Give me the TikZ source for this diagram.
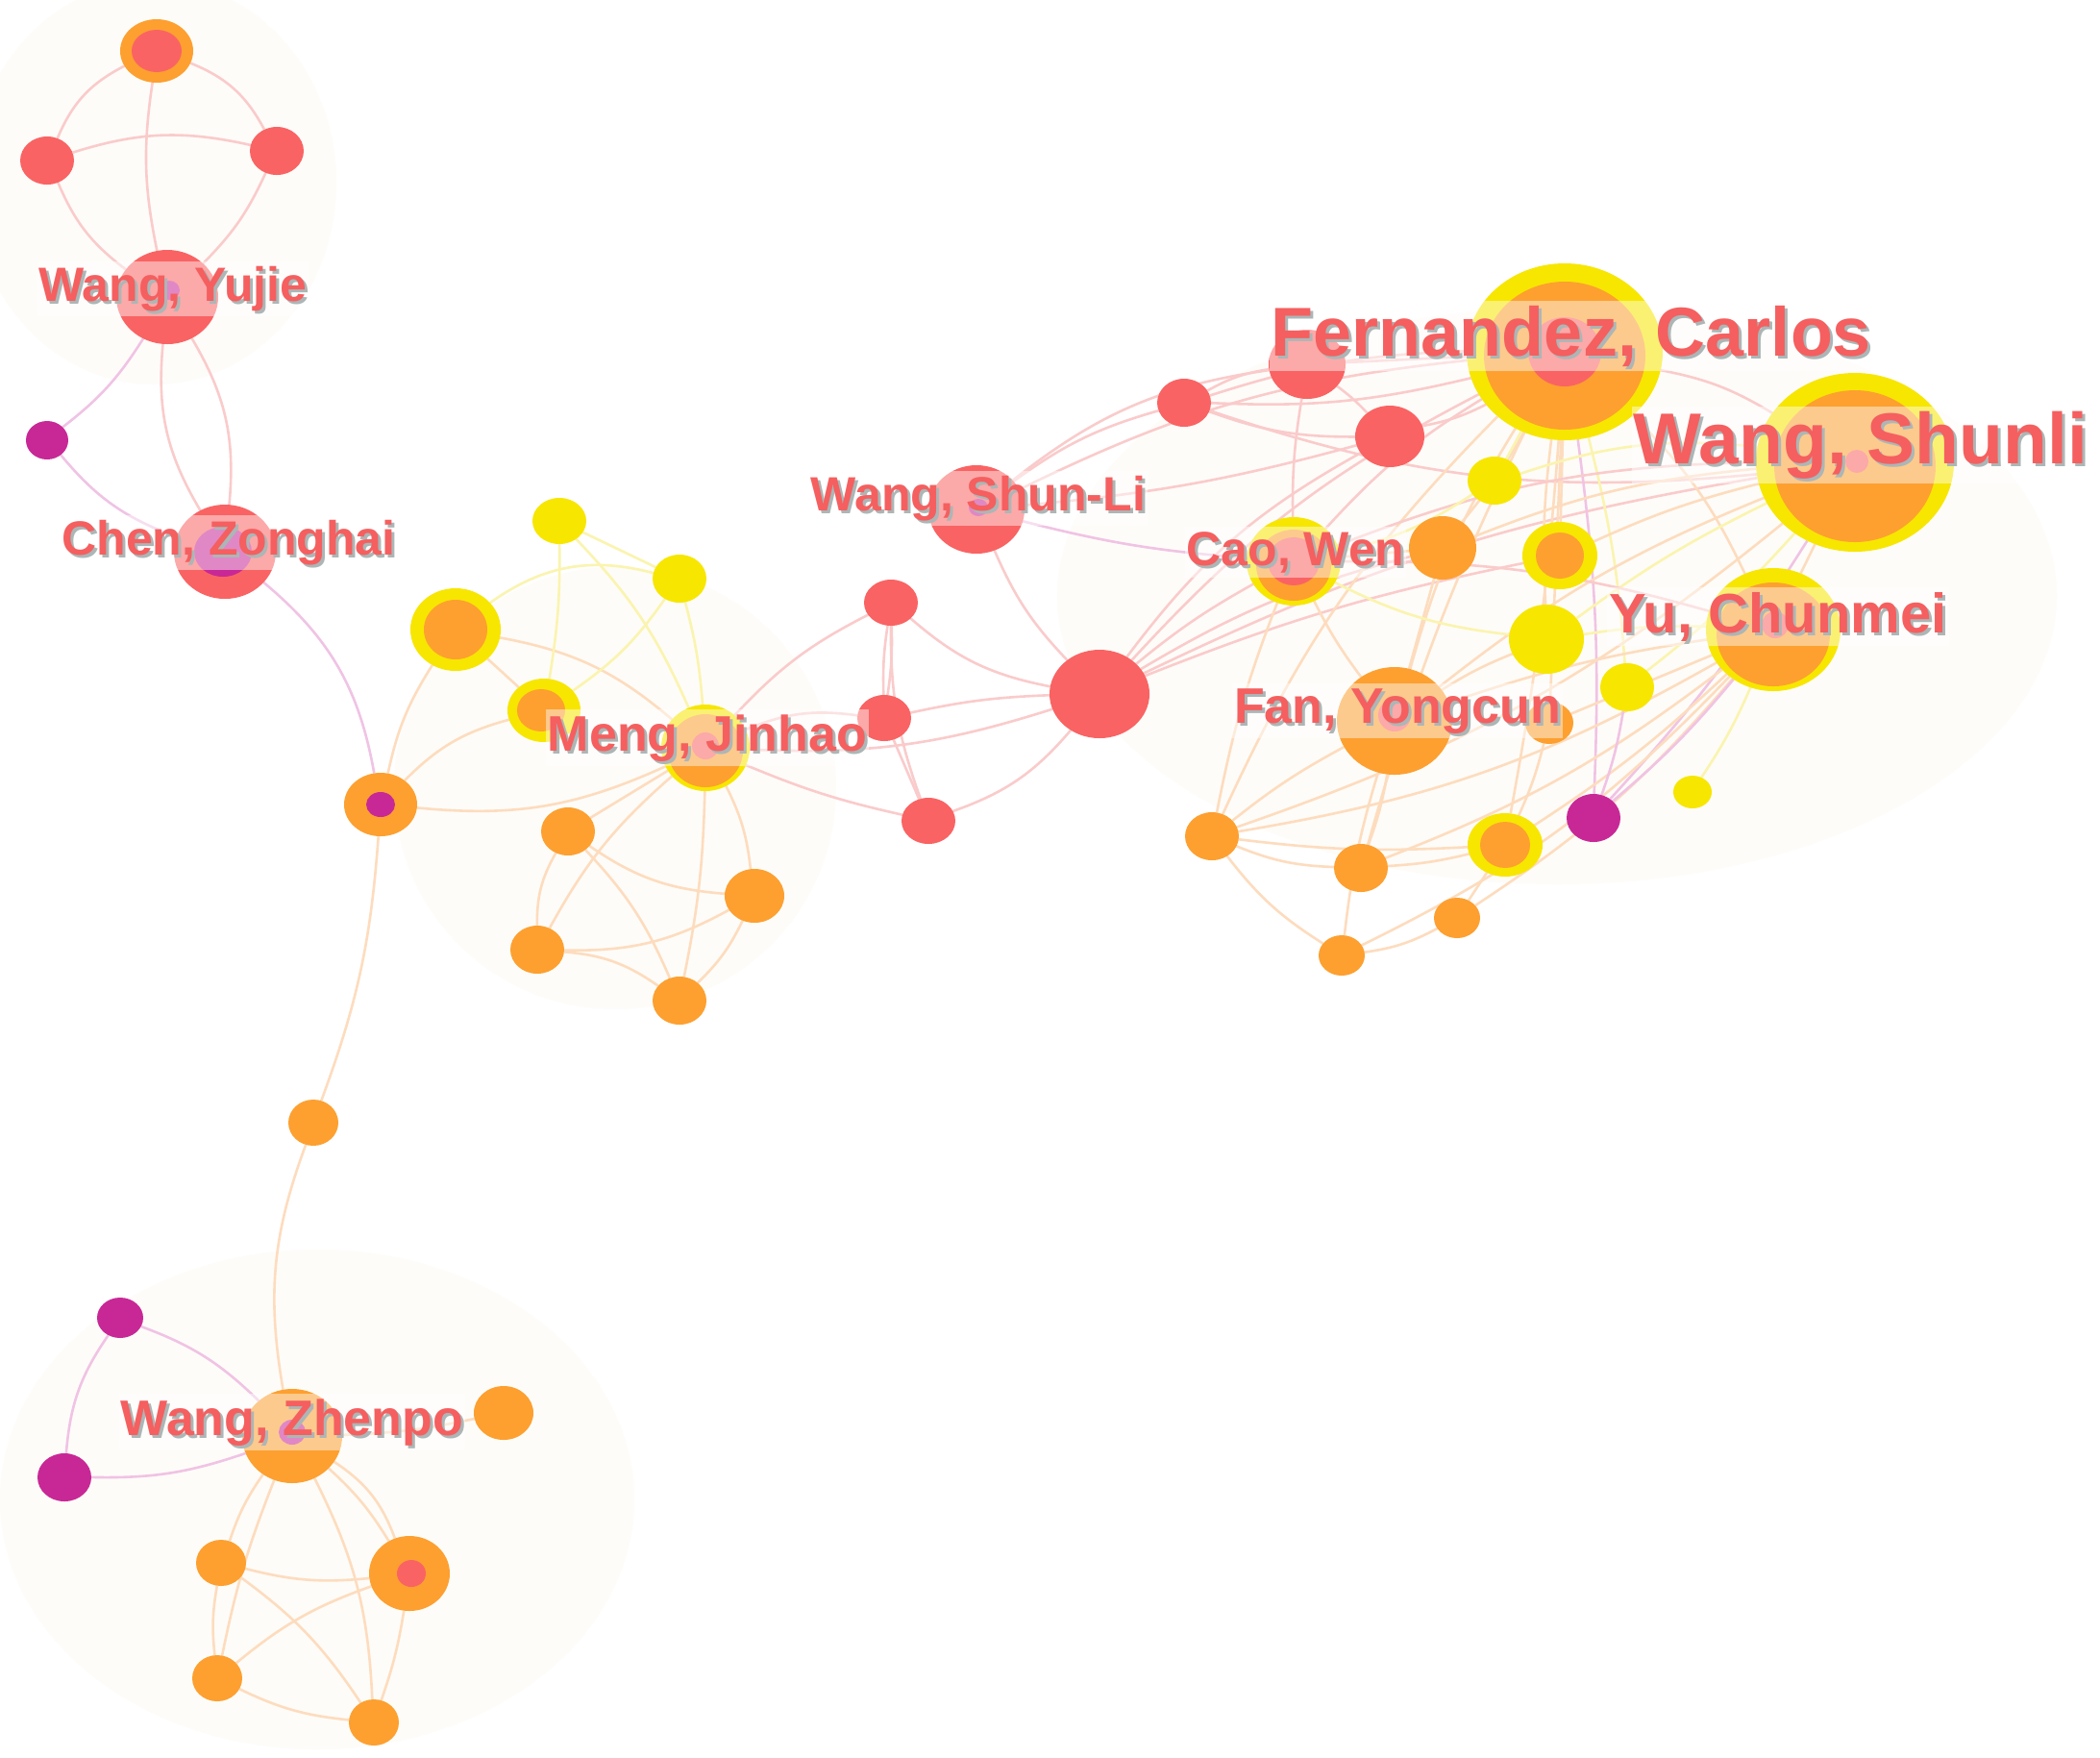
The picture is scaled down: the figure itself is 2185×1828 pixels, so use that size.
\documentclass[tikz,border=0pt]{standalone}
\usepackage{fontspec}
\setmainfont{Liberation Sans}
\usetikzlibrary{shapes.geometric}
\definecolor{cRed}{RGB}{250,99,99}
\definecolor{cOrn}{RGB}{253,160,48}
\definecolor{cYel}{RGB}{247,230,0}
\definecolor{cMag}{RGB}{200,40,150}
\definecolor{cLab}{RGB}{245,95,95}
\definecolor{cShd}{RGB}{172,182,182}
\definecolor{eRc}{RGB}{250,203,203}
\definecolor{eOc}{RGB}{253,220,190}
\definecolor{eYc}{RGB}{250,244,175}
\definecolor{eMc}{RGB}{240,195,228}
\definecolor{cBlob}{RGB}{254,252,248}
\pgfdeclarelayer{blob}\pgfdeclarelayer{edges}\pgfdeclarelayer{labels}
\pgfsetlayers{blob,edges,main,labels}
\tikzset{
  nd/.style={ellipse,inner sep=0pt,outer sep=0pt,draw=none},
  rd/.style={nd,fill=cRed}, orn/.style={nd,fill=cOrn},
  yel/.style={nd,fill=cYel}, mag/.style={nd,fill=cMag},
  edgebase/.style={line width=1.3pt},
  eR/.style={edgebase,draw=eRc}, eO/.style={edgebase,draw=eOc},
  eY/.style={edgebase,draw=eYc}, eM/.style={edgebase,draw=eMc},
  lband/.style={anchor=base,fill=white,fill opacity=0.45,inner xsep=0.1em,inner ysep=0.25em},
  lshadow/.style={anchor=base,text=cShd,inner sep=0pt,xshift=1.5pt,yshift=-1.5pt},
  ltext/.style={anchor=base,text=cLab,inner sep=0pt},
}
\newcommand\pnode[6]{\node[#6,minimum width=#4pt,minimum height=#5pt] (#1) at (#2,#3) {};}
\newcommand\authlab[5]{%
  \begin{pgfonlayer}{labels}
  \node[lband,font=\fontsize{#4}{#4}\selectfont\bfseries] (#1-band) at (#2,#3) {\phantom{#5}};
  \node[lshadow,font=\fontsize{#4}{#4}\selectfont\bfseries] (#1-shadow) at (#2,#3) {#5};
  \node[ltext,font=\fontsize{#4}{#4}\selectfont\bfseries] (#1) at (#2,#3) {#5};
  \end{pgfonlayer}}
\begin{document}
\begin{tikzpicture}[x=0.5pt,y=-0.5pt]
\useasboundingbox (0,0) rectangle (2185,1828);
\begin{pgfonlayer}{blob}
\fill[white] (0,0) rectangle (2185,1828);
\fill[cBlob] (160,190) ellipse [x radius=190,y radius=210];
\fill[cBlob] (330,1560) ellipse [x radius=330,y radius=260];
\fill[cBlob] (1620,620) ellipse [x radius=520,y radius=300];
\fill[cBlob] (640,820) ellipse [x radius=230,y radius=230];
\end{pgfonlayer}

% ---------- nodes: top-left
\pnode{A}{163}{53}{38}{33}{orn}\pnode{A-in}{163}{53}{26}{22}{rd}
\pnode{B}{49}{167}{28}{25}{rd}
\pnode{C}{288}{157}{28}{25}{rd}
\pnode{WY}{174}{309}{53}{49}{rd}\pnode{WY-in}{176}{302}{11}{10}{mag}
\pnode{D}{49}{458}{22}{20}{mag}
\pnode{Chen}{234}{574}{53}{49}{rd}\pnode{Chen-in}{232}{574}{30}{26}{mag}
% ---------- middle-left
\pnode{E}{396}{837}{38}{33}{orn}\pnode{E-in}{396}{837}{15}{13}{mag}
\pnode{F}{474}{655}{47}{43}{yel}\pnode{F-in}{474}{655}{33}{31}{orn}
\pnode{G}{582}{542}{28}{24}{yel}
\pnode{H}{707}{602}{28}{25}{yel}
\pnode{I}{566}{739}{38}{33}{yel}\pnode{I-in}{563}{739}{25}{22}{orn}
\pnode{Meng}{734}{778}{46}{45}{yel}\pnode{Meng-in}{734}{781}{39}{38}{orn}\pnode{Meng-c}{734}{776}{14}{14}{rd}
\pnode{J}{591}{865}{28}{25}{orn}
\pnode{K}{785}{932}{31}{28}{orn}
\pnode{L}{559}{988}{28}{25}{orn}
\pnode{M}{707}{1041}{28}{25}{orn}
\pnode{N}{326}{1168}{26}{24}{orn}
% ---------- middle red
\pnode{R1}{927}{627}{28}{24}{rd}
\pnode{R2}{920}{747}{28}{24}{rd}
\pnode{R3}{966}{854}{28}{24}{rd}
\pnode{Big}{1144}{722}{52}{46}{rd}
\pnode{WSL}{1016}{530}{50}{46}{rd}\pnode{WSL-in}{1018}{528}{10}{9}{mag}
\pnode{R4}{1232}{419}{28}{25}{rd}
\pnode{R5}{1360}{379}{40}{36}{rd}
\pnode{R6}{1446}{454}{36}{32}{rd}
% ---------- right cluster
\pnode{Fern}{1628}{366}{102}{92}{yel}\pnode{Fern-in}{1628}{370}{84}{77}{orn}\pnode{Fern-c}{1628}{366}{38}{36}{rd}
\pnode{WSh}{1930}{481}{103}{93}{yel}\pnode{WSh-in}{1930}{485}{84}{79}{orn}\pnode{WSh-c}{1932}{480}{12}{12}{rd}
\pnode{Y1}{1555}{500}{28}{25}{yel}
\pnode{Cao}{1346}{584}{49}{46}{yel}\pnode{Cao-in}{1346}{588}{39}{37}{orn}\pnode{Cao-c}{1346}{584}{27}{25}{rd}
\pnode{O1}{1501}{570}{35}{33}{orn}
\pnode{Y2}{1623}{578}{39}{35}{yel}\pnode{Y2-in}{1623}{578}{25}{24}{orn}
\pnode{Y3}{1609}{665}{39}{36}{yel}
\pnode{YuC}{1845}{655}{70}{64}{yel}\pnode{YuC-in}{1845}{660}{59}{54}{orn}\pnode{YuC-c}{1847}{650}{14}{14}{rd}
\pnode{Y4}{1693}{715}{28}{25}{yel}
\pnode{Fan}{1451}{750}{60}{56}{orn}\pnode{Fan-c}{1451}{744}{17}{17}{rd}
\pnode{O2}{1612}{752}{25}{22}{orn}
\pnode{Mg}{1658}{851}{28}{25}{mag}
\pnode{Y5}{1761}{824}{20}{17}{yel}
\pnode{O3}{1261}{870}{28}{25}{orn}
\pnode{O4}{1416}{903}{28}{25}{orn}
\pnode{O5}{1566}{879}{39}{33}{yel}\pnode{O5-in}{1566}{879}{26}{24}{orn}
\pnode{O6}{1516}{955}{24}{21}{orn}
\pnode{O7}{1396}{994}{24}{21}{orn}
% ---------- bottom-left
\pnode{WZ}{304}{1494}{52}{49}{orn}\pnode{WZ-in}{304}{1490}{14}{13}{mag}
\pnode{P1}{125}{1371}{24}{21}{mag}
\pnode{P2}{67}{1537}{28}{25}{mag}
\pnode{P3}{524}{1470}{31}{28}{orn}
\pnode{P4}{230}{1626}{26}{24}{orn}
\pnode{P5}{426}{1637}{42}{39}{orn}\pnode{P5-in}{428}{1637}{15}{14}{rd}
\pnode{P6}{226}{1746}{26}{24}{orn}
\pnode{P7}{389}{1792}{26}{24}{orn}

% ---------- edges
\begin{pgfonlayer}{edges}
% top-left
\draw[eR] (A) to[bend right=20] (B);
\draw[eR] (A) to[bend left=20] (C);
\draw[eR] (A) to[bend right=10] (WY);
\draw[eR] (B) to[bend left=15] (C);
\draw[eR] (B) to[bend right=15] (WY);
\draw[eR] (C) to[bend left=10] (WY);
\draw[eM] (WY) to[bend left=10] (D);
\draw[eR] (WY) to[bend left=18] (Chen);
\draw[eR] (WY) to[bend right=18] (Chen);
\draw[eM] (D) to[bend right=15] (Chen);
\draw[eM] (Chen) to[bend left=20] (E);
% middle-left
\draw[eO] (E) to[bend left=8] (N);
\draw[eO] (N) to[bend right=15] (WZ);
\draw[eO] (E) to[bend left=10] (F);
\draw[eO] (E) to[bend left=15] (I);
\draw[eO] (E) to[bend right=15] (Meng);
\draw[eY] (F) to[bend left=25] (H);
\draw[eO] (F) to[bend left=15] (Meng);
\draw[eO] (F) -- (I);
\draw[eY] (G) to[bend left=5] (I);
\draw[eY] (G) -- (H);
\draw[eY] (G) to[bend left=10] (Meng);
\draw[eY] (H) to[bend left=10] (I);
\draw[eY] (H) to[bend left=5] (Meng);
\draw[eO] (Meng) -- (J);
\draw[eO] (Meng) to[bend left=10] (K);
\draw[eO] (Meng) to[bend right=10] (L);
\draw[eO] (Meng) to[bend left=5] (M);
\draw[eO] (J) to[bend right=15] (K);
\draw[eO] (J) to[bend right=15] (L);
\draw[eO] (J) to[bend left=10] (M);
\draw[eO] (L) to[bend right=15] (K);
\draw[eO] (L) to[bend left=15] (M);
\draw[eO] (K) to[bend left=10] (M);
% middle red
\draw[eR] (Meng) to[bend left=10] (R1);
\draw[eR] (Meng) to[bend left=15] (R2);
\draw[eR] (Meng) to[bend right=10] (Big);
\draw[eR] (Meng) to[bend right=5] (R3);
\draw[eR] (R1) to[bend right=5] (R2);
\draw[eR] (R1) to[bend left=5] (R2);
\draw[eR] (R1) to[bend right=10] (R3);
\draw[eR] (R1) to[bend right=15] (Big);
\draw[eR] (R2) to[bend left=5] (Big);
\draw[eR] (R2) -- (R3);
\draw[eR] (R3) to[bend right=15] (Big);
\draw[eR] (WSL) to[bend right=10] (Big);
\draw[eR] (WSL) to[bend left=10] (R4);
\draw[eR] (WSL) to[bend left=15] (R5);
\draw[eR] (WSL) to[bend left=10] (Fern);
\draw[eR] (WSL) to[bend right=5] (R6);
\draw[eM] (WSL) to[bend right=5] (Cao);
\draw[eR] (Big) to[bend left=5] (Cao);
\draw[eR] (Big) to[bend left=8] (O1);
\draw[eR] (Big) to[bend left=10] (Fern);
\draw[eR] (Big) to[bend left=8] (WSh);
\draw[eR] (Big) to[bend left=5] (Y2);
\draw[eR] (Big) to[bend left=12] (R6);
\draw[eR] (R4) to[bend left=10] (R5);
\draw[eR] (R4) to[bend right=10] (R6);
\draw[eR] (R4) to[bend left=8] (Fern);
\draw[eR] (R4) to[bend right=8] (Fern);
\draw[eR] (R5) -- (Fern);
\draw[eR] (R5) to[bend left=5] (R6);
\draw[eR] (R6) to[bend right=8] (Fern);
\draw[eR] (R5) to[bend right=5] (Cao);
\draw[eR] (R4) to[bend right=12] (WSh);
% right cluster
\draw[eR] (Fern) to[bend left=10] (WSh);
\draw[eR] (Fern) to[bend right=8] (Cao);
\draw[eO] (Fern) to[bend left=5] (O1);
\draw[eY] (Fern) -- (Y1);
\draw[eO] (Fern) -- (Y2);
\draw[eO] (Fern) to[bend right=5] (Y3);
\draw[eO] (Fern) to[bend left=10] (YuC);
\draw[eO] (Fern) to[bend right=8] (Fan);
\draw[eY] (Fern) to[bend left=5] (Y4);
\draw[eO] (Fern) -- (O2);
\draw[eM] (Fern) to[bend left=5] (Mg);
\draw[eO] (Fern) to[bend left=3] (O5);
\draw[eO] (Fern) to[bend right=10] (O3);
\draw[eO] (Fern) to[bend right=5] (O4);
\draw[eR] (WSh) to[bend right=10] (Cao);
\draw[eO] (WSh) to[bend right=8] (O1);
\draw[eO] (WSh) to[bend right=5] (Y2);
\draw[eO] (WSh) -- (YuC);
\draw[eY] (WSh) to[bend right=5] (Y3);
\draw[eO] (WSh) to[bend right=8] (Fan);
\draw[eO] (WSh) to[bend left=10] (O3);
\draw[eM] (WSh) to[bend left=5] (Mg);
\draw[eY] (WSh) to[bend right=12] (Y1);
\draw[eY] (WSh) to[bend left=5] (Y4);
\draw[eO] (YuC) to[bend left=10] (O3);
\draw[eO] (YuC) to[bend left=8] (O4);
\draw[eO] (YuC) to[bend left=5] (O5);
\draw[eO] (YuC) to[bend left=8] (O6);
\draw[eO] (YuC) to[bend left=10] (O7);
\draw[eM] (YuC) to[bend left=5] (Mg);
\draw[eY] (YuC) to[bend left=5] (Y5);
\draw[eO] (YuC) to[bend right=5] (Fan);
\draw[eY] (YuC) to[bend right=5] (Y3);
\draw[eR] (YuC) to[bend right=8] (Cao);
\draw[eO] (YuC) -- (O2);
\draw[eO] (Fan) to[bend right=5] (O3);
\draw[eO] (Fan) to[bend left=5] (O4);
\draw[eO] (Fan) to[bend right=5] (O7);
\draw[eO] (Fan) to[bend left=5] (Cao);
\draw[eO] (Fan) -- (O1);
\draw[eO] (Fan) to[bend left=5] (Y3);
\draw[eO] (O3) to[bend right=10] (O4);
\draw[eO] (O3) to[bend right=10] (O7);
\draw[eO] (O3) to[bend right=5] (O5);
\draw[eO] (O7) to[bend right=10] (O6);
\draw[eO] (O6) -- (O5);
\draw[eO] (O2) to[bend left=5] (O5);
\draw[eO] (O4) to[bend right=5] (O5);
\draw[eO] (Cao) to[bend right=5] (O3);
\draw[eY] (Cao) to[bend right=10] (Y3);
\draw[eO] (Cao) -- (O1);
\draw[eM] (Mg) to[bend right=5] (Y4);
\draw[eY] (Y1) to[bend left=10] (Cao);
% bottom-left
\draw[eO] (WZ) to[bend right=5] (P3);
\draw[eM] (WZ) to[bend right=12] (P1);
\draw[eM] (WZ) to[bend left=10] (P2);
\draw[eM] (P1) to[bend right=15] (P2);
\draw[eO] (WZ) to[bend right=8] (P4);
\draw[eO] (WZ) to[bend left=8] (P5);
\draw[eO] (WZ) to[bend left=18] (P5);
\draw[eO] (WZ) to[bend right=5] (P6);
\draw[eO] (WZ) to[bend left=12] (P7);
\draw[eO] (P4) to[bend right=10] (P5);
\draw[eO] (P4) to[bend right=8] (P6);
\draw[eO] (P4) to[bend left=10] (P7);
\draw[eO] (P6) to[bend left=10] (P5);
\draw[eO] (P6) to[bend right=10] (P7);
\draw[eO] (P5) to[bend left=5] (P7);
\end{pgfonlayer}

% ---------- labels
\authlab{lWY}{180}{313}{25}{Wang, Yujie}
\authlab{lChen}{238}{577}{25}{Chen, Zonghai}
\authlab{lMeng}{736}{781}{26}{Meng, Jinhao}
\authlab{lWSL}{1018}{531}{25}{Wang, Shun-Li}
\authlab{lCao}{1348}{588}{25}{Cao, Wen}
\authlab{lFan}{1454}{752}{26}{Fan, Yongcun}
\authlab{lYuC}{1850}{658}{29}{Yu, Chunmei}
\authlab{lFern}{1635}{370}{36}{Fernandez, Carlos}
\authlab{lWSh}{1936}{482}{37.5}{Wang, Shunli}
\authlab{lWZ}{304}{1493}{26}{Wang, Zhenpo}
\end{tikzpicture}
\end{document}
